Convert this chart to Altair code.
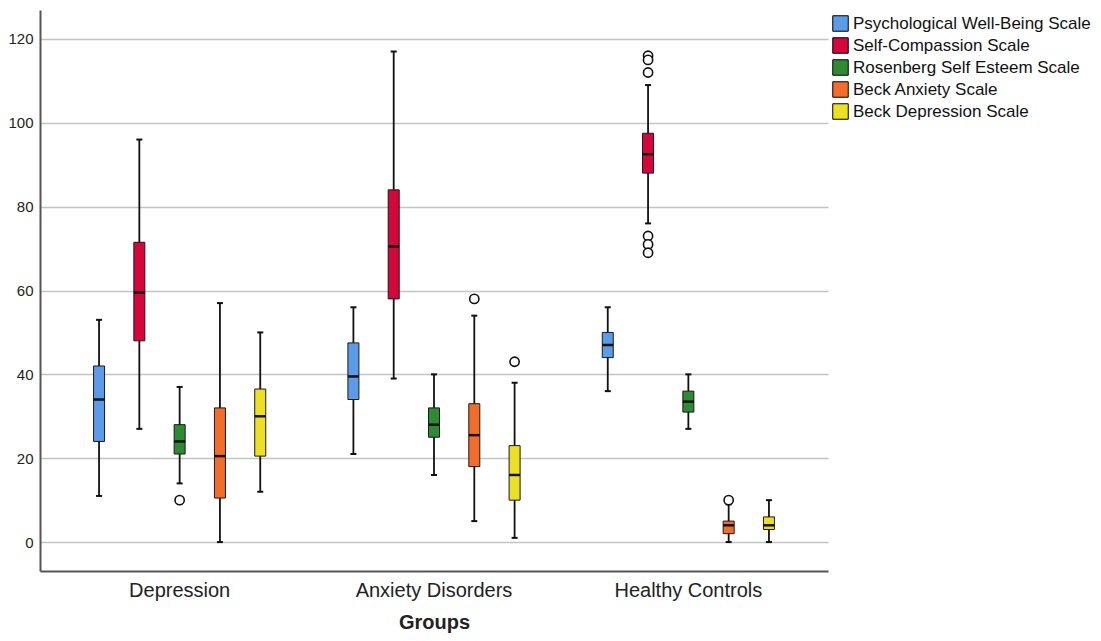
import altair as alt
import pandas as pd

groups = ["Depression", "Anxiety Disorders", "Healthy Controls"]
scales = [
    "Psychological Well-Being Scale",
    "Self-Compassion Scale",
    "Rosenberg Self Esteem Scale",
    "Beck Anxiety Scale",
    "Beck Depression Scale",
]
colors = ["#5b9be8", "#d4063a", "#2e8b34", "#f26d2b", "#ebe024"]

# five values per group, in the order of `scales`
whisker_low = [11, 27, 14, 0, 12,    21, 39, 16, 5, 1,      36, 76, 27, 0, 0]
q1 =          [24, 48, 21, 10.5, 20.5, 34, 58, 25, 18, 10,  44, 88, 31, 2, 3]
median =      [34, 59.5, 24, 20.5, 30, 39.5, 70.5, 28, 25.5, 16, 47, 92.5, 33.5, 4, 4]
q3 =          [42, 71.5, 28, 32, 36.5, 47.5, 84, 32, 33, 23,  50, 97.5, 36, 5, 6]
whisker_high = [53, 96, 37, 57, 50,   56, 117, 40, 54, 38,   56, 109, 40, 9, 10]

outlier_group = ["Depression", "Anxiety Disorders", "Anxiety Disorders",
                 "Healthy Controls", "Healthy Controls", "Healthy Controls",
                 "Healthy Controls", "Healthy Controls", "Healthy Controls",
                 "Healthy Controls"]
outlier_scale = ["Rosenberg Self Esteem Scale", "Beck Anxiety Scale", "Beck Depression Scale",
                 "Self-Compassion Scale", "Self-Compassion Scale", "Self-Compassion Scale",
                 "Self-Compassion Scale", "Self-Compassion Scale", "Self-Compassion Scale",
                 "Beck Anxiety Scale"]
outlier_value = [10, 58, 43, 116, 115, 112, 73, 71, 69, 10]

y_ticks = [0, 20, 40, 60, 80, 100, 120]

rows = []
i = 0
for g in groups:
    for s in scales:
        rows.append({"group": g, "scale": s, "low": whisker_low[i], "q1": q1[i],
                     "median": median[i], "q3": q3[i], "high": whisker_high[i]})
        i += 1
df = pd.DataFrame(rows)
df_out = pd.DataFrame({"group": outlier_group, "scale": outlier_scale, "value": outlier_value})

FONT = "Liberation Sans"

x_enc = alt.X(
    "group:N", sort=groups,
    scale=alt.Scale(paddingInner=0, paddingOuter=0.049),
    axis=alt.Axis(title="Groups", ticks=False, labelAngle=0, labelFontSize=20, labelFont=FONT,
                  labelColor="#222", labelPadding=9, domainColor="#555", domainWidth=2,
                  titleFontSize=20, titleFont=FONT, titleFontWeight="bold", titleColor="#222",
                  titlePadding=12),
)
xo_enc = alt.XOffset("scale:N", sort=scales, scale=alt.Scale(paddingInner=0, paddingOuter=0.656))

y_scale = alt.Scale(domain=[-6.9, 126.9], nice=False, zero=False)
y_axis = alt.Axis(values=y_ticks, title=None, ticks=False, grid=True, gridColor="#c4c4c4",
                  gridWidth=1.5, domainColor="#555", domainWidth=2, labelFontSize=15,
                  labelFont=FONT, labelColor="#222", labelPadding=7)

base = alt.Chart(df).encode(x=x_enc, xOffset=xo_enc)

whisker = base.mark_rule(color="#111", strokeWidth=1.8).encode(
    y=alt.Y("low:Q", scale=y_scale, axis=y_axis), y2="high:Q")

box = base.mark_bar(width=11, stroke="#1a1a1a", strokeWidth=1, opacity=1).encode(
    y=alt.Y("q1:Q", scale=y_scale, axis=y_axis), y2="q3:Q",
    color=alt.Color("scale:N", sort=scales, scale=alt.Scale(domain=scales, range=colors),
                    legend=alt.Legend(title=None, orient="none", legendX=792, legendY=5,
                                      symbolType="square", symbolSize=240,
                                      symbolStrokeColor="black", symbolStrokeWidth=1,
                                      symbolOpacity=1, labelFontSize=17, labelFont=FONT,
                                      labelColor="#111", rowPadding=1, labelOffset=4,
                                      labelLimit=400)))

med = base.mark_tick(color="#111", thickness=2.5, size=11, orient="horizontal", opacity=1).encode(
    y=alt.Y("median:Q", scale=y_scale, axis=y_axis))

cap_lo = base.mark_tick(color="#111", thickness=2, size=6, orient="horizontal", opacity=1).encode(
    y=alt.Y("low:Q", scale=y_scale, axis=y_axis))
cap_hi = base.mark_tick(color="#111", thickness=2, size=6, orient="horizontal", opacity=1).encode(
    y=alt.Y("high:Q", scale=y_scale, axis=y_axis))

outl = alt.Chart(df_out).mark_point(shape="circle", filled=True, fill="white", stroke="#111",
                                    strokeWidth=1.6, size=85, opacity=1).encode(
    x=x_enc, xOffset=xo_enc, y=alt.Y("value:Q", scale=y_scale, axis=y_axis))

chart = alt.layer(whisker, cap_lo, cap_hi, box, med, outl).properties(
    width=788, height=561,
    padding={"left": 32, "top": 2, "right": 265, "bottom": 62},
    autosize=alt.AutoSizeParams(type="none"),
    background="white",
).configure_view(stroke="transparent", strokeWidth=0)

chart.save("out.html", embed_options={"renderer": "svg", "actions": False})
